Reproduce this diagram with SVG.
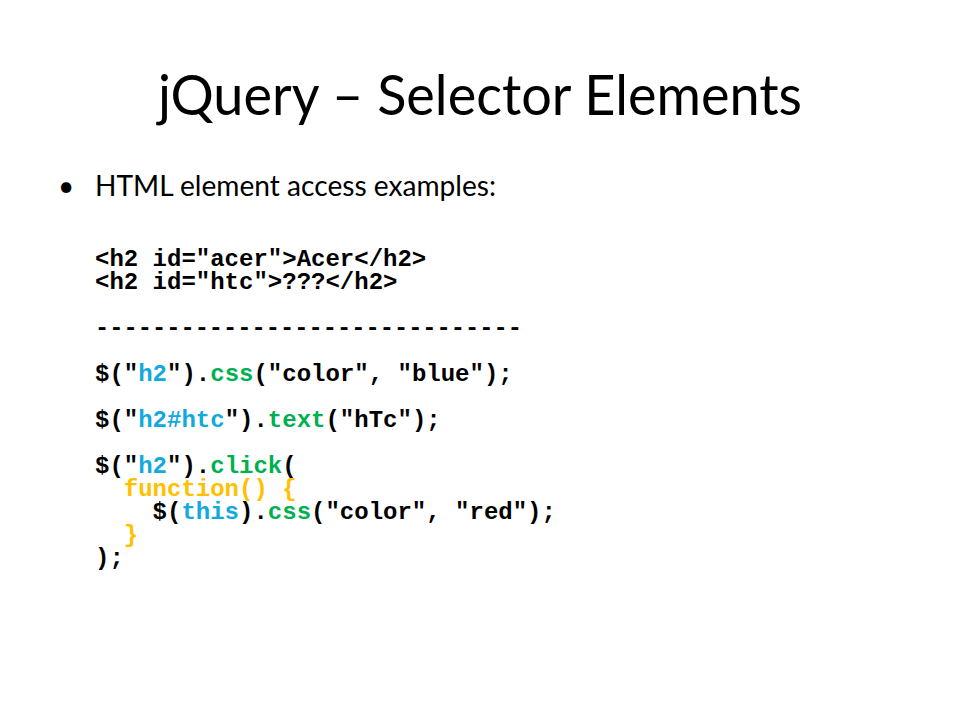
<svg xmlns="http://www.w3.org/2000/svg" width="960" height="720" viewBox="0 0 960 720">
<style>
.title{font-family:Lato,"Open Sans","Liberation Sans",sans-serif;font-size:56px;fill:#000}
.body{font-family:Lato,"Open Sans","Liberation Sans",sans-serif;font-size:28px;fill:#000}
.code{font-family:"Liberation Mono","Courier New",monospace;font-size:24px;font-weight:bold;fill:#000;white-space:pre}
.b{fill:#12A8E0}
.g{fill:#00B050}
.o{fill:#FFC000}
</style>
<rect width="960" height="720" fill="#fff"/>
<g id="title">
<text class="title" x="480" y="115" text-anchor="middle" textLength="644" lengthAdjust="spacingAndGlyphs">jQuery – Selector Elements</text>
</g>
<g id="bullet">
<text class="body" x="58" y="196">•</text>
<text class="body" x="95" y="196" textLength="401" lengthAdjust="spacingAndGlyphs">HTML element access examples:</text>
</g>
<g id="code" class="code" xml:space="preserve">
<text class="code" x="95" y="266">&lt;h2 id="acer"&gt;Acer&lt;/h2&gt;</text>
<text class="code" x="95" y="289">&lt;h2 id="htc"&gt;???&lt;/h2&gt;</text>
<text class="code" x="95" y="335" textLength="427" lengthAdjust="spacingAndGlyphs">------------------------------</text>
<text class="code" x="95" y="381">$("<tspan class="b">h2</tspan>").<tspan class="g">css</tspan>("color", "blue");</text>
<text class="code" x="95" y="427">$("<tspan class="b">h2#htc</tspan>").<tspan class="g">text</tspan>("hTc");</text>
<text class="code" x="95" y="473">$("<tspan class="b">h2</tspan>").<tspan class="g">click</tspan>(</text>
<text class="code o" x="123.8" y="496">function() {</text>
<text class="code" x="152.6" y="519">$(<tspan class="b">this</tspan>).<tspan class="g">css</tspan>("color", "red");</text>
<text class="code o" x="123.8" y="542">}</text>
<text class="code" x="95" y="565">);</text>
</g>
</svg>
